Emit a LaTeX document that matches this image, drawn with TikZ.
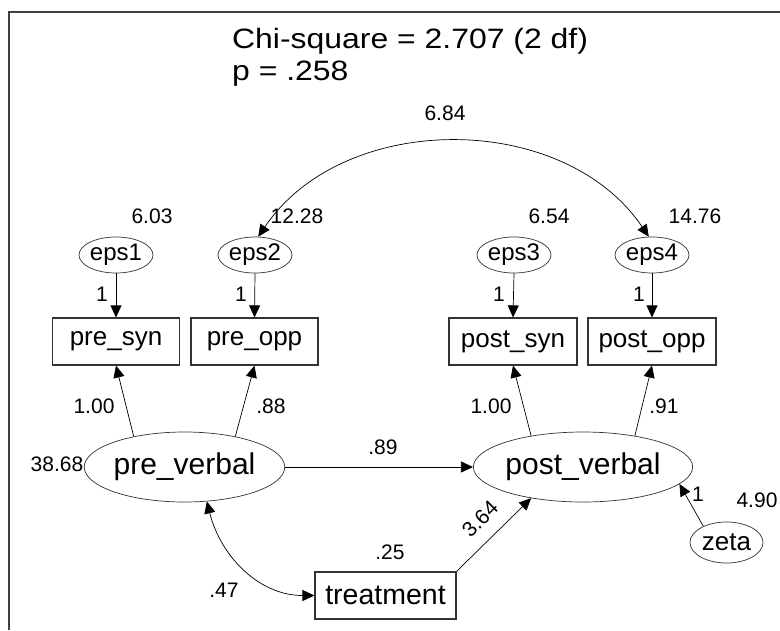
\documentclass[tikz,border=0pt]{standalone}
\usepackage{fontspec}
\usepackage{graphicx}
\setmainfont{Liberation Sans}
\usetikzlibrary{shapes.geometric,arrows.meta}
\newcommand\fsz[1]{\fontsize{#1}{#1}\selectfont}
\newcommand\wide[1]{\scalebox{1.14}[1]{#1}}

\begin{document}
\begin{tikzpicture}[x=1pt,y=-1pt,
  lat/.style={ellipse,draw=black!80,line width=0.7pt,inner sep=0pt},
  obs/.style={rectangle,draw=black!80,line width=1.2pt,inner sep=0pt},
  lbl/.style={inner sep=0pt,font=\fsz{21}},
  ttl/.style={anchor=base west,inner sep=0pt,font=\fsz{28}},
  arr/.style={-{Triangle[length=12pt,width=11pt]},line width=0.7pt},
  darr/.style={{Triangle[length=12pt,width=11pt]}-{Triangle[length=12pt,width=11pt]},line width=0.7pt}]

\useasboundingbox (0,0) rectangle (780,630);
\fill[white] (0,0) rectangle (780,630);

% frame
\draw[black!75,line width=1.8pt] (9,630) -- (9,12) -- (781,12);

% fit statistics
\node[ttl] (chi) at (232,48) {\wide{Chi-square = 2.707 (2 df)}};
\node[ttl] (pval) at (232,80) {\wide{p = .258}};

% error terms
\node[lat,minimum width=74pt,minimum height=36pt,font=\fsz{24}] (eps1) at (116,255) {eps1};
\node[lat,minimum width=74pt,minimum height=36pt,font=\fsz{24}] (eps2) at (255,255) {eps2};
\node[lat,minimum width=74pt,minimum height=36pt,font=\fsz{24}] (eps3) at (514,255) {eps3};
\node[lat,minimum width=74pt,minimum height=36pt,font=\fsz{24}] (eps4) at (652,255) {eps4};

% observed indicators
\node[obs,minimum width=127pt,minimum height=47pt,font=\fsz{26}] (presyn) at (116,341.5) {pre\_syn};
\node[obs,minimum width=127pt,minimum height=47pt,font=\fsz{26}] (preopp) at (254.5,341.5) {pre\_opp};
\node[obs,minimum width=128pt,minimum height=47pt,font=\fsz{26}] (postsyn) at (513,341.5) {post\_syn};
\node[obs,minimum width=128pt,minimum height=47pt,font=\fsz{26}] (postopp) at (652,341.5) {post\_opp};

% latent variables
\node[lat,minimum width=185pt,minimum height=70pt,font=\fsz{30}] (prev) at (184.5,467) {pre\_verbal};
\node[lat,minimum width=184pt,minimum height=70pt,font=\fsz{30}] (postv) at (583,467) {post\_verbal};
\node[lat,minimum width=73pt,minimum height=41pt,font=\fsz{26}] (zeta) at (726.5,542.5) {zeta};
\node[obs,minimum width=141pt,minimum height=47pt,font=\fsz{28.5}] (treat) at (385.5,595.5) {treatment};

% paths
\draw[arr] (eps1.south) -- (presyn.north);
\draw[arr] (eps2.south) -- (preopp.north);
\draw[arr] (eps3.south) -- (postsyn.north);
\draw[arr] (eps4.south) -- (postopp.north);
\draw[arr] (prev.149) -- (presyn.south);
\draw[arr] (prev.31) -- (preopp.south);
\draw[arr] (postv.149) -- (postsyn.south);
\draw[arr] (postv.31) -- (postopp.south);
\draw[arr] (prev.east) -- (postv.west);
\draw[arr] (zeta.145) -- (postv.-10);
\draw[arr] (treat.north east) -- (postv.211);
\draw[darr] (prev.-57) to[out=-76,in=180] (treat.west);
\draw[darr] (eps2.80) to[out=56,in=124] (eps4.100);

% estimates
\node[lbl] (l684) at (445,113) {6.84};
\node[lbl] (l603) at (152,216) {6.03};
\node[lbl] (l1228) at (297,216) {12.28};
\node[lbl] (l654) at (549,216) {6.54};
\node[lbl] (l1476) at (695,216) {14.76};
\node[lbl] (w1) at (102,294) {1};
\node[lbl] (w2) at (241,294) {1};
\node[lbl] (w3) at (499,294) {1};
\node[lbl] (w4) at (639,294) {1};
\node[lbl] (l100a) at (94,406) {1.00};
\node[lbl] (l88) at (271,406) {.88};
\node[lbl] (l100b) at (491,406) {1.00};
\node[lbl] (l91) at (664,406) {.91};
\node[lbl] (l3868) at (57,464) {38.68};
\node[lbl] (l89) at (383,447) {.89};
\node[lbl] (wz) at (698,494) {1};
\node[lbl] (l490) at (757,500) {4.90};
\node[lbl,rotate=45] (l364) at (480,519) {3.64};
\node[lbl] (l25) at (390,552) {.25};
\node[lbl] (l47) at (224,590) {.47};
\end{tikzpicture}
\end{document}
